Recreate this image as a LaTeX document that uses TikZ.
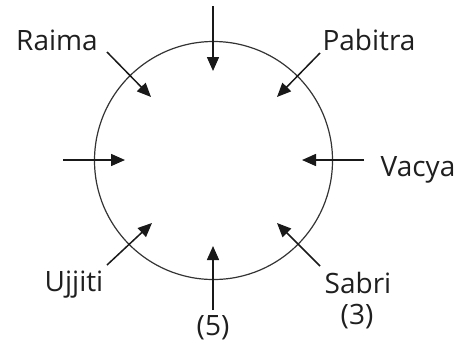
\documentclass[tikz,border=0pt]{standalone}
\usepackage{fontspec}
\setmainfont{Open Sans}
\usetikzlibrary{arrows.meta}
\begin{document}
\begin{tikzpicture}[x=1pt,y=-1pt,
  lbl/.style={font=\fontsize{28}{31}\selectfont, text=black!88, inner sep=0pt, anchor=base},
  arr/.style={line width=1.5pt, draw=black!90, -{Triangle[length=14pt,width=12pt]}}]
\useasboundingbox (0,0) rectangle (462,351);
\node[draw=black!80, line width=1.2pt, circle, minimum size=238pt, inner sep=0pt] (c) at (213.5,160.5) {};
% labels
\node[lbl] (raima) at (57,50) {Raima};
\node[lbl] (pabitra) at (369,50) {Pabitra};
\node[lbl] (vacya) at (418,176) {Vacya};
\node[lbl] (ujjiti) at (74,291) {Ujjiti};
\node[lbl] (sabri) at (358,293) {Sabri};
\node[lbl] (three) at (357,324) {(3)};
\node[lbl] (five) at (213,335) {(5)};
% arrow ends
\coordinate (rs) at (107,52);  \coordinate (re) at (151,97);
\coordinate (ts) at (213,6);   \coordinate (te) at (213,71);
\coordinate (ps) at (320,53);  \coordinate (pe) at (277,97);
\coordinate (ls) at (63,160);  \coordinate (le) at (125,160);
\coordinate (vs) at (364,160); \coordinate (ve) at (302,160);
\coordinate (us) at (107,265); \coordinate (ue) at (152,223);
\coordinate (bs) at (213,310); \coordinate (be) at (213,246);
\coordinate (ss) at (320,266); \coordinate (se) at (277,223);
\draw[arr] (rs) -- (re);
\draw[arr] (ts) -- (te);
\draw[arr] (ps) -- (pe);
\draw[arr] (ls) -- (le);
\draw[arr] (vs) -- (ve);
\draw[arr] (us) -- (ue);
\draw[arr] (bs) -- (be);
\draw[arr] (ss) -- (se);
\end{tikzpicture}
\end{document}
